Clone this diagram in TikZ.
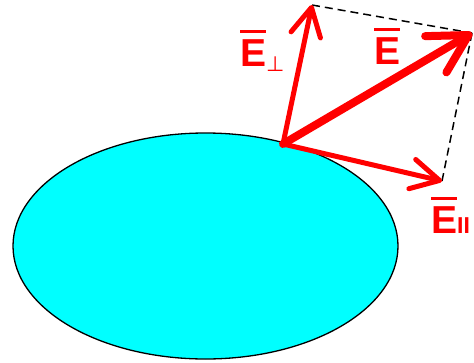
\documentclass[tikz,border=0pt]{standalone}
\usepackage{fontspec}
\setmainfont{Liberation Sans}
\newfontfamily\symfont{DejaVu Sans}
\usetikzlibrary{arrows.meta}
\definecolor{vecred}{RGB}{255,0,0}
\definecolor{lenscyan}{RGB}{0,255,255}
% E with a bar over it
\newcommand{\barE}{\vbox{\hrule height 3.2pt\kern 6pt\hbox{E}}}

\begin{document}
\begin{tikzpicture}[x=1pt, y=-1pt, line cap=round, line join=round,
  field/.style={draw=vecred, line width=5pt, -{Straight Barb[length=28pt,width=30pt,round]}},
  total/.style={field, line width=8pt, -{Straight Barb[length=38pt,width=42pt,round]}},
  lbl/.style={text=vecred, font=\fontsize{39}{39}\selectfont\bfseries, inner sep=0pt, anchor=base west},
  proj/.style={draw, line width=1.5pt, line cap=butt, dash pattern=on 8pt off 5pt}]
  \useasboundingbox (0,0) rectangle (474,362);

  % the body and the point on its surface
  \draw[fill=lenscyan, line width=1.3pt] (205.5,246) ellipse[x radius=192.5, y radius=113];
  \coordinate (O) at (283,144);
  \coordinate (Tperp) at (312,5);
  \coordinate (Tvec) at (472,33);
  \coordinate (Tpar) at (442,181);

  % parallelogram sides
  \draw[proj] (Tperp) -- (Tvec);
  \draw[proj] (Tvec) -- (Tpar);

  % the components and the field
  \draw[field] (O) -- (Tperp);
  \draw[field] (O) -- (Tpar);
  \draw[total] (O) -- (Tvec);

  % labels
  \node[lbl] (Lperp) at (240,66) {\barE\raisebox{-5pt}{\symfont\mdseries\fontsize{21}{21}\selectfont ⊥}};
  \node[lbl] (Lvec) at (374,64) {\barE};
  \node[lbl] (Lpar) at (431,233) {\barE{\fontsize{23}{23}\selectfont II}};
\end{tikzpicture}
\end{document}
